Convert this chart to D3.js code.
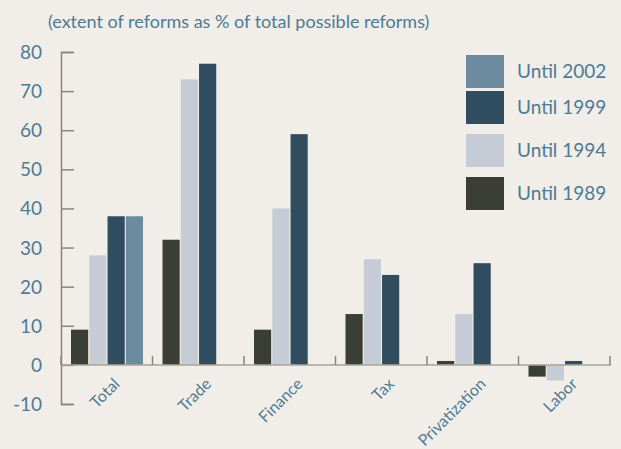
<!DOCTYPE html>
<html>
<head>
<meta charset="utf-8">
<script src="https://cdn.jsdelivr.net/npm/d3@7"></script>
<style>
  body { margin: 0; background: #f1eee9; }
  svg { display: block; font-family: "Lato", "Noto Sans", sans-serif; }
</style>
</head>
<body>
<svg id="chart" width="621" height="449"></svg>
<script>
// chart data
const categories = ["Total", "Trade", "Finance", "Tax", "Privatization", "Labor"];
const seriesNames = ["Until 1989", "Until 1994", "Until 1999", "Until 2002"];
const until1989 = [9, 32, 9, 13, 1, -3];
const until1994 = [28, 73, 40, 27, 13, -4];
const until1999 = [38, 77, 59, 23, 26, 1];
const until2002 = [38, null, null, null, null, null];
const yTicks = [-10, 0, 10, 20, 30, 40, 50, 60, 70, 80];
const colors = ["#3a3e36", "#c5ccd5", "#304d60", "#6c8b9e"];

const seriesValues = [until1989, until1994, until1999, until2002];
const textColor = "#4d7b93";

const svg = d3.select("#chart");
const width = +svg.attr("width"), height = +svg.attr("height");

svg.append("rect").attr("width", width).attr("height", height).attr("fill", "#f1eee9");

const x = d3.scaleBand().domain(categories).range([61, 610]).padding(0);
const xInner = d3.scaleBand().domain(seriesNames).range([10, 82]).paddingInner(0.06);
const y = d3.scaleLinear().domain([-10, 80]).range([404, 52]);

// bars
seriesNames.forEach((name, si) => {
  const vals = categories.map((c, i) => ({ cat: c, v: seriesValues[si][i] }))
    .filter(d => d.v !== null);
  svg.append("g").selectAll("rect")
    .data(vals)
    .join("rect")
    .attr("x", d => x(d.cat) + xInner(name))
    .attr("width", xInner.bandwidth())
    .attr("y", d => y(Math.max(0, d.v)))
    .attr("height", d => Math.abs(y(d.v) - y(0)))
    .attr("fill", colors[si]);
});

// y axis
const yAxis = svg.append("g")
  .attr("transform", "translate(61,0)")
  .call(d3.axisRight(y).tickValues(yTicks).tickSize(13).tickFormat(""));
yAxis.select(".domain").attr("stroke", "#8a857a").attr("stroke-width", 1.5);
yAxis.selectAll(".tick line").attr("stroke", "#8a857a").attr("stroke-width", 1.5);

svg.append("g").selectAll("text")
  .data(yTicks)
  .join("text")
  .attr("x", 42)
  .attr("y", d => y(d) + 7)
  .attr("text-anchor", "end")
  .attr("fill", textColor)
  .attr("font-size", 19)
  .text(d => d);

// x axis
svg.append("line")
  .attr("x1", 61).attr("x2", 611)
  .attr("y1", y(0)).attr("y2", y(0))
  .attr("stroke", "#a9a397").attr("stroke-width", 1.5);

const bounds = categories.map(c => x(c)).concat([x.range()[1]]);
svg.append("g").selectAll("line")
  .data(bounds)
  .join("line")
  .attr("x1", d => d).attr("x2", d => d)
  .attr("y1", y(0) - 9).attr("y2", y(0))
  .attr("stroke", "#8a857a").attr("stroke-width", 1.5);

svg.append("g").selectAll("text")
  .data(categories)
  .join("text")
  .attr("transform", d => `translate(${x(d) + x.bandwidth() / 2 + 14},385) rotate(-45)`)
  .attr("text-anchor", "end")
  .attr("fill", textColor)
  .attr("font-size", 16)
  .text(d => d);

// title
svg.append("text")
  .attr("x", 48).attr("y", 28)
  .attr("fill", textColor)
  .attr("font-size", 18)
  .text("(extent of reforms as % of total possible reforms)");

// legend, newest first
const legendOrder = [3, 2, 1, 0];
const legendTops = [55, 91, 134, 177];
const legend = svg.append("g");
legendOrder.forEach((si, k) => {
  const g = legend.append("g").attr("transform", `translate(466,${legendTops[k]})`);
  g.append("rect").attr("width", 38).attr("height", 33).attr("fill", colors[si]);
  g.append("text")
    .attr("x", 51).attr("y", 23)
    .attr("fill", textColor)
    .attr("font-size", 19)
    .text(seriesNames[si]);
});
</script>
</body>
</html>
